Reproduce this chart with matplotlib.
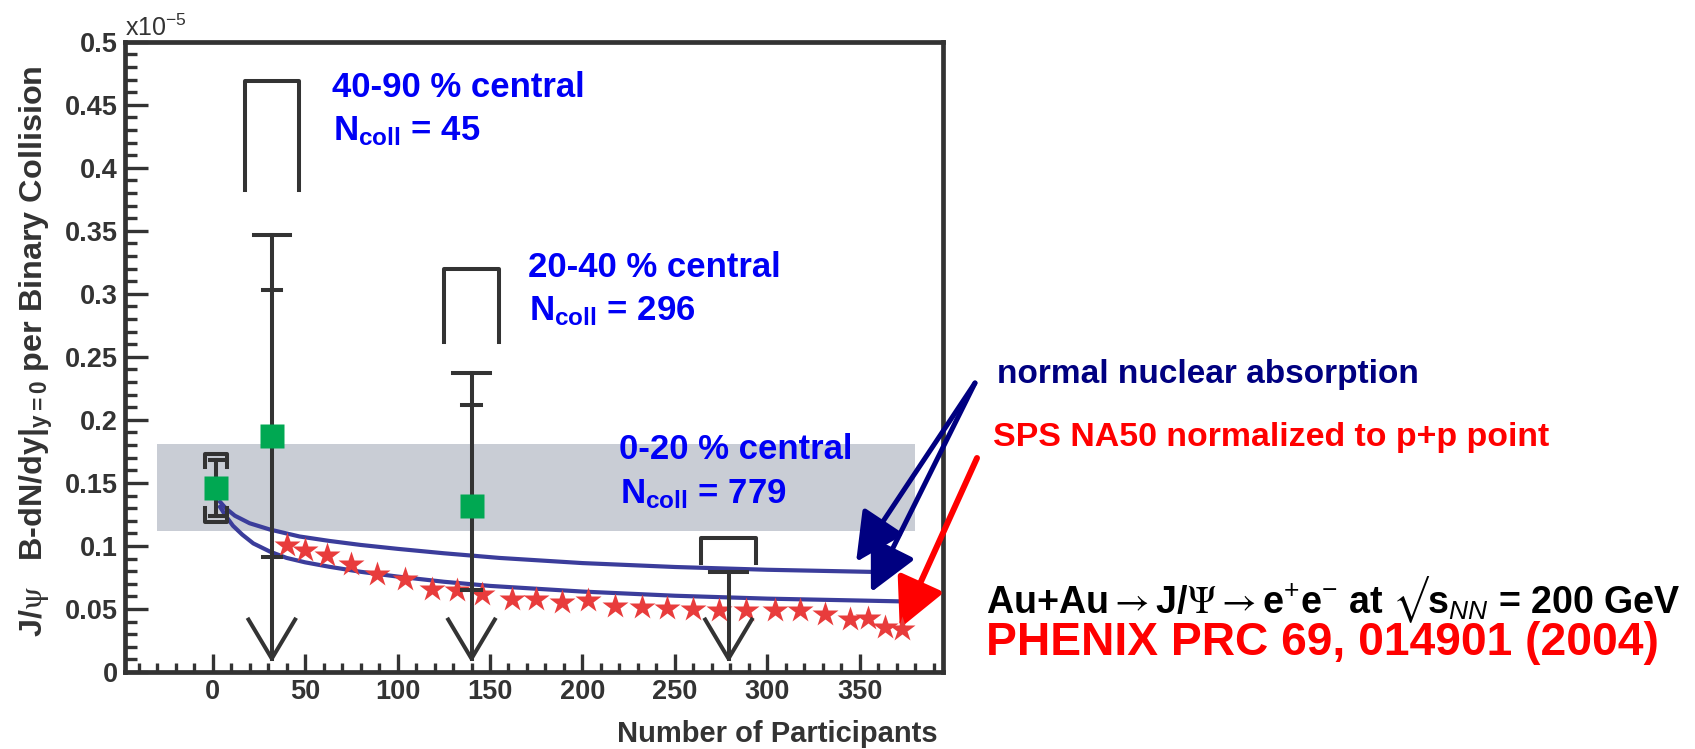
import matplotlib
matplotlib.use("Agg")
import matplotlib.pyplot as plt
from matplotlib import font_manager
from matplotlib.ticker import MultipleLocator, FuncFormatter
import numpy as np

# J/psi yield per binary collision (units of 1e-5) vs number of participants

# p+p reference point
pp_npart = 2
pp_yield = 0.146
pp_stat = [0.124, 0.168]
pp_sys = [0.119, 0.173]

# Au+Au centrality classes
cent_labels = ["40-90 % central", "20-40 % central", "0-20 % central"]
ncoll = [45, 296, 779]
aa_npart = [32, 140, 279]
aa_yield = [0.187, 0.132, np.nan]
aa_stat_lo = [0.091, 0.065, np.nan]
aa_stat_hi = [0.303, 0.212, np.nan]
aa_limit = [0.347, 0.237, 0.079]      # 90% CL upper limits
aa_sys_lo = [0.382, 0.262, 0.0865]
aa_sys_hi = [0.469, 0.320, 0.106]

# p+p normalisation band
band_npart = [-30, 380]
band_lo = 0.1117
band_hi = 0.181

# normal nuclear absorption curves
abs_hi_npart = [4, 7, 12, 20, 31, 47, 63, 80, 100, 125, 155, 200, 250, 300, 357]
abs_hi = [0.135, 0.130, 0.124, 0.118, 0.113, 0.1075, 0.104, 0.1008, 0.0977,
          0.0942, 0.0905, 0.0864, 0.0833, 0.0811, 0.0794]
abs_lo_npart = [4, 7, 11, 16, 22, 31, 40, 50, 63, 80, 100, 125, 150, 200,
                250, 300, 373]
abs_lo = [0.131, 0.124, 0.116, 0.109, 0.102, 0.0955, 0.0905, 0.087, 0.0835,
          0.0795, 0.0757, 0.0716, 0.0683, 0.0638, 0.0605, 0.0582, 0.056]

# SPS NA50 normalised to the p+p point
na50_npart = [40, 50, 61.6, 75, 88.7, 104, 118.4, 132, 145.5, 161.7, 175,
              188.7, 203, 217.5, 232, 245.5, 260, 274, 288.7, 304, 317.6,
              331, 344.6, 354.5, 363.5, 372.6]
na50_yield = [0.1006, 0.0966, 0.0926, 0.086, 0.078, 0.0736, 0.066, 0.0648,
              0.062, 0.0582, 0.058, 0.0556, 0.0569, 0.052, 0.0516, 0.0508,
              0.0503, 0.0495, 0.049, 0.049, 0.049, 0.0463, 0.0424, 0.0429,
              0.0357, 0.0344]

W, H = 1695, 749
INK = "#333333"
BLUE_TXT = "#0000f5"
NAVY = "#000080"
RED = "#ff0000"


def fp(x, y):
    # pixel position (origin top-left) -> figure fraction
    return x / W, 1 - y / H


def has_font(name):
    try:
        font_manager.findfont(font_manager.FontProperties(family=name),
                              fallback_to_default=False)
        return True
    except ValueError:
        return False


narrow = "Liberation Sans Narrow" if has_font("Liberation Sans Narrow") else "Liberation Sans"

plt.rcParams["font.family"] = ["Liberation Sans", "DejaVu Sans"]
plt.rcParams["mathtext.fontset"] = "custom"
plt.rcParams["mathtext.rm"] = "Liberation Sans"
plt.rcParams["mathtext.bf"] = "Liberation Sans:bold"
plt.rcParams["mathtext.it"] = "Liberation Sans:italic"
plt.rcParams["mathtext.sf"] = "STIXGeneral"

fig = plt.figure(figsize=(W / 100, H / 100), dpi=100)
ax = fig.add_axes([125 / W, 1 - 672 / H, 818 / W, 630.3 / H])

ax.set_xlim(-47.4, 395)
ax.set_ylim(0, 0.5)

# band
ax.fill_between(band_npart, band_lo, band_hi, color="#c9cdd5", lw=0, zorder=1)

# curves
ax.plot(abs_hi_npart, abs_hi, color="#3b3d9b", lw=3, zorder=3)
ax.plot(abs_lo_npart, abs_lo, color="#3b3d9b", lw=3, zorder=3)

# NA50 stars
ax.plot(na50_npart, na50_yield, ls="none", marker="*", ms=19,
        color="#e83c3c", mec="none", zorder=4)

lw = 2.9
# p+p point with stat bar and sys brackets
ax.plot([pp_npart, pp_npart], pp_stat, color=INK, lw=lw, zorder=5)
for yv in pp_stat:
    ax.plot([pp_npart - 3.5, pp_npart + 3.5], [yv, yv], color=INK, lw=lw, zorder=5)
ax.plot([pp_npart - 5.9, pp_npart - 5.9, pp_npart + 5.9, pp_npart + 5.9],
        [pp_sys[1] - 0.01, pp_sys[1], pp_sys[1], pp_sys[1] - 0.01],
        color=INK, lw=lw, zorder=5)
ax.plot([pp_npart - 5.9, pp_npart - 5.9, pp_npart + 5.9, pp_npart + 5.9],
        [pp_sys[0] + 0.011, pp_sys[0], pp_sys[0], pp_sys[0] + 0.011],
        color=INK, lw=lw, zorder=5)
ax.plot([pp_npart], [pp_yield], marker="s", ms=17.5, color="#00a852",
        mec="none", ls="none", zorder=6)

# Au+Au points: upper-limit arrows, stat ticks, sys brackets
for x, yv, lo, hi, lim, slo, shi in zip(aa_npart, aa_yield, aa_stat_lo,
                                        aa_stat_hi, aa_limit, aa_sys_lo,
                                        aa_sys_hi):
    ax.plot([x, x], [0.0106, lim], color=INK, lw=lw, zorder=5)
    ax.plot([x - 12.6, x, x + 12.6], [0.0416, 0.0106, 0.0416],
            color=INK, lw=lw, zorder=5)
    ax.plot([x - 9.9, x + 9.9], [lim, lim], color=INK, lw=lw, zorder=5)
    if not np.isnan(lo):
        for t in (lo, hi):
            ax.plot([x - 4.9, x + 4.9], [t, t], color=INK, lw=lw, zorder=5)
    ax.plot([x - 14.7, x - 14.7, x + 14.7, x + 14.7], [slo, shi, shi, slo],
            color=INK, lw=lw, zorder=5)
    if not np.isnan(yv):
        ax.plot([x], [yv], marker="s", ms=17.5, color="#00a852", mec="none",
                ls="none", zorder=6)

# axes styling
for s in ax.spines.values():
    s.set_linewidth(3.4)
    s.set_color(INK)
ax.xaxis.set_major_locator(MultipleLocator(50))
ax.xaxis.set_minor_locator(MultipleLocator(10))
ax.yaxis.set_major_locator(MultipleLocator(0.05))
ax.yaxis.set_minor_locator(MultipleLocator(0.01))
ax.yaxis.set_major_formatter(FuncFormatter(lambda v, p: "%g" % round(v, 3)))
ax.tick_params(axis="x", which="major", direction="in", length=13, width=2.4,
               color=INK, labelcolor=INK, labelsize=19.5, pad=5)
ax.tick_params(axis="x", which="minor", direction="in", length=6.5, width=2.4,
               color=INK)
ax.tick_params(axis="y", which="major", direction="in", length=16.5, width=2.4,
               color=INK, labelcolor=INK, labelsize=19.5, pad=5)
ax.tick_params(axis="y", which="minor", direction="in", length=8.5, width=2.4,
               color=INK)
for lab in ax.get_xticklabels() + ax.get_yticklabels():
    lab.set_fontweight("bold")

fig.text(*fp(125, 36), r"x10$^{-5}$", fontsize=18, color=INK, va="baseline")
fig.text(*fp(938, 742), "Number of Participants", ha="right", va="baseline",
         fontsize=21, fontweight="bold", color=INK)
fig.text(*fp(36, 351),
         r"J/$\mathsf{\psi}$   B-dN/dy|$_{\mathbf{y=0}}$ per Binary Collision",
         rotation=90, ha="center", va="center", fontsize=23.3,
         fontweight="bold", color=INK)

# centrality labels
label_pos = [(331.7, 96.7), (528.3, 276.7), (619.3, 459)]
for (lx, ly), lab, nc in zip(label_pos, cent_labels, ncoll):
    fig.text(*fp(lx, ly), lab, fontsize=25, fontweight="bold",
             color=BLUE_TXT, va="baseline", zorder=7)
    fig.text(*fp(lx + 1, ly + 44), r"N$_{\mathbf{coll}}$ = %d" % nc,
             fontsize=25, fontweight="bold", color=BLUE_TXT, va="baseline",
             zorder=7)

# right-hand legend texts and arrows
fig.text(*fp(996.7, 383.3), "normal nuclear absorption", fontsize=24,
         fontweight="bold", color=NAVY, va="baseline")
t_sps = fig.text(*fp(993, 446), "SPS NA50 normalized to p+p point",
                 fontsize=29, fontweight="bold", color=RED, va="baseline",
                 family=[narrow, "DejaVu Sans"])
t_rx = fig.text(*fp(986, 613),
                "Au+Au$\\mathsf{\\rightarrow}$J/$\\mathsf{\\Psi}$$\\mathsf{\\rightarrow}$"
                "e$^{+}$e$^{-}$ at $\\mathsf{\u221a}$s$_{\\mathit{NN}}$ = 200 GeV",
                fontsize=30, fontweight="bold", color="black", va="baseline",
                family=[narrow, "DejaVu Sans"])
t_ref = fig.text(*fp(986, 655), "PHENIX PRC 69, 014901 (2004)", fontsize=30,
                 fontweight="bold", color=RED, va="baseline",
                 family=[narrow, "DejaVu Sans"])

# scale the condensed lines to their set widths
renderer = fig.canvas.get_renderer()
for t, wpx in ((t_sps, 556), (t_rx, 695), (t_ref, 671)):
    bb = t.get_window_extent(renderer)
    t.set_fontsize(t.get_fontsize() * wpx / bb.width)

arrow_kw = dict(arrowstyle="-|>,head_length=30,head_width=15",
                mutation_scale=1, shrinkA=0, shrinkB=0)
ax.annotate("", xy=(348, 0.0873), xytext=fp(975, 383), textcoords="figure fraction",
            arrowprops=dict(color=NAVY, lw=3.6, **arrow_kw), annotation_clip=False)
ax.annotate("", xy=(356, 0.0632), xytext=fp(975, 383), textcoords="figure fraction",
            arrowprops=dict(color=NAVY, lw=3.6, **arrow_kw), annotation_clip=False)
ax.annotate("", xy=(371.6, 0.0346), xytext=fp(977, 458), textcoords="figure fraction",
            arrowprops=dict(color=RED, lw=4.3, **arrow_kw), annotation_clip=False)

fig.savefig("out.png", dpi=100)
